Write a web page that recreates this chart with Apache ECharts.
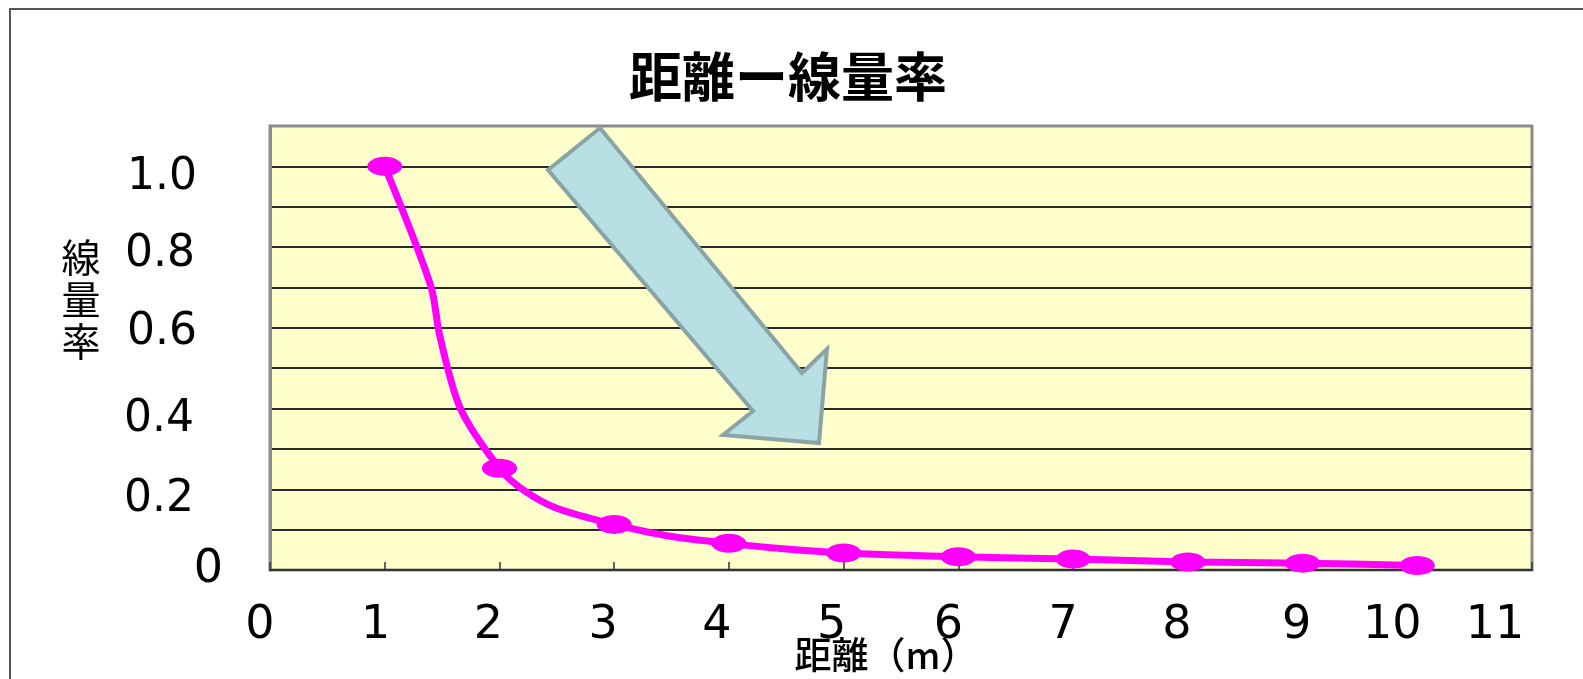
<!DOCTYPE html>
<html>
<head>
<meta charset="utf-8">
<script src="https://cdn.jsdelivr.net/npm/echarts@6/dist/echarts.min.js"></script>
<style>
html,body{margin:0;padding:0;background:#fff;}
#main{width:1583px;height:679px;}
</style>
</head>
<body>
<div id="main"></div>
<script>
// ---- data ----
const titleText = '距離ー線量率';
const xAxisName = '距離（m）';
const yAxisName = '線量率';
const distances = [1, 2, 3, 4, 5, 6, 7, 8, 9, 10];
const rates = [1.0, 0.252, 0.113, 0.066, 0.042, 0.033, 0.027, 0.02, 0.017, 0.011];
const curveX = [1, 1.4, 1.48, 1.66, 2, 2.21, 2.5, 3, 3.5, 4, 4.5, 5, 5.5, 6, 7, 8, 9, 10];
const curveY = [1.0, 0.705, 0.58, 0.40, 0.252, 0.198, 0.153, 0.113, 0.083, 0.066, 0.052, 0.042, 0.037, 0.033, 0.027, 0.02, 0.017, 0.011];
const yTickLabels = {0: '0', 2: '0.2', 4: '0.4', 6: '0.6', 8: '0.8', 10: '1.0'};
const xTickLabels = ['0', '1', '2', '3', '4', '5', '6', '7', '8', '9', '10', '11'];

// ---- label styling (position nudges only) ----
const yLabelDown = {0: 0, 2: 10, 4: 11, 6: 5, 8: 7, 10: 11};
const yLabelRight = {0: 223, 2: 194, 4: 194, 6: 197, 8: 195, 10: 197};
const xLabelLeft = [10, 9, 11, 11, 12, 12, 10, 10, 11, 6, 25, 37];

const chart = echarts.init(document.getElementById('main'));
const gridColors = [];
for (let i = 0; i < 11; i++) gridColors.push('#2a2a2a');
gridColors.push('rgba(0,0,0,0)');

const plotLeft = 270;
const yLabelMargin = 40;
const yRich = {};
Object.keys(yTickLabels).forEach(function (k) {
  const down = yLabelDown[k];
  const rightPad = (plotLeft - yLabelMargin) - yLabelRight[k];
  yRich['y' + k] = {
    fontFamily: 'DejaVu Sans', fontSize: k === '0' ? 46 : 44, color: '#000',
    padding: [down * 2, Math.max(0, rightPad), 0, 0]
  };
});
const xRich = {};
xTickLabels.forEach(function (t, i) {
  xRich['x' + i] = {
    fontFamily: 'DejaVu Sans', fontSize: 46, color: '#000',
    padding: [0, xLabelLeft[i] * 2, 0, 0]
  };
});

const ellipse = 'path://M0,1A1,1 0 1,1 2,1A1,1 0 1,1 0,1Z';

const option = {
  animation: false,
  backgroundColor: '#ffffff',
  title: {
    text: titleText,
    left: 783, top: 45, textAlign: 'center',
    textStyle: {fontFamily: 'Noto Sans CJK JP', fontSize: 53, fontWeight: 'bold', color: '#000'}
  },
  grid: {
    left: plotLeft, right: 51, top: 126, bottom: 109,
    show: true, backgroundColor: '#FFFFCC', borderColor: '#8c8c8c', borderWidth: 3
  },
  xAxis: {
    type: 'value', min: 0, max: 11, interval: 1,
    axisLine: {show: true, lineStyle: {color: '#333', width: 2}},
    axisTick: {show: true, inside: true, length: 8, lineStyle: {color: '#333', width: 1.5}},
    splitLine: {show: false},
    axisLabel: {
      margin: 33, fontFamily: 'DejaVu Sans', fontSize: 46, color: '#000',
      formatter: function (v) {
        const i = Math.round(v);
        return '{x' + i + '|' + xTickLabels[i] + '}';
      },
      rich: xRich
    }
  },
  yAxis: {
    type: 'value', min: 0, max: 1.1, interval: 0.1,
    axisLine: {show: true, lineStyle: {color: '#8c8c8c', width: 3}},
    axisTick: {show: false},
    splitLine: {show: true, lineStyle: {color: gridColors, width: 2}},
    axisLabel: {
      margin: yLabelMargin, fontFamily: 'DejaVu Sans', fontSize: 44, color: '#000',
      formatter: function (v) {
        const r = Math.round(v * 10);
        return yTickLabels[r] !== undefined ? '{y' + r + '|' + yTickLabels[r] + '}' : '';
      },
      rich: yRich
    }
  },
  series: [
    {
      type: 'line',
      data: curveX.map((x, i) => [x, curveY[i]]),
      showSymbol: false,
      smooth: 0.3,
      lineStyle: {color: '#FF00FF', width: 7},
      z: 3
    },
    {
      type: 'scatter',
      data: distances.map((x, i) => [x, rates[i]]),
      symbol: ellipse,
      symbolSize: [35, 19],
      itemStyle: {color: '#FF00FF', opacity: 1},
      z: 4
    }
  ],
  graphic: [
    {
      type: 'rect', z: 100,
      shape: {x: 10, y: 9, width: 1620, height: 720},
      style: {fill: 'none', stroke: '#555', lineWidth: 2}
    },
    {
      type: 'polygon', z: 100,
      shape: {points: [[548,170],[600,128],[802,373],[827,349],[819,443],[723,435],[753,411]]},
      style: {fill: '#B8DFE3', stroke: '#8AA4A6', lineWidth: 4, lineJoin: 'miter'}
    },
    {
      type: 'text', z: 100, x: 81, y: 236,
      style: {text: yAxisName.split('').join('\n'), font: '39px "Noto Sans CJK JP"', lineHeight: 42, align: 'center', verticalAlign: 'top', fill: '#000'}
    },
    {
      type: 'text', z: 100, x: 886, y: 655,
      style: {text: xAxisName, font: '500 37px "Noto Sans CJK JP"', align: 'center', verticalAlign: 'middle', fill: '#000'}
    }
  ]
};
chart.setOption(option);
</script>
</body>
</html>
